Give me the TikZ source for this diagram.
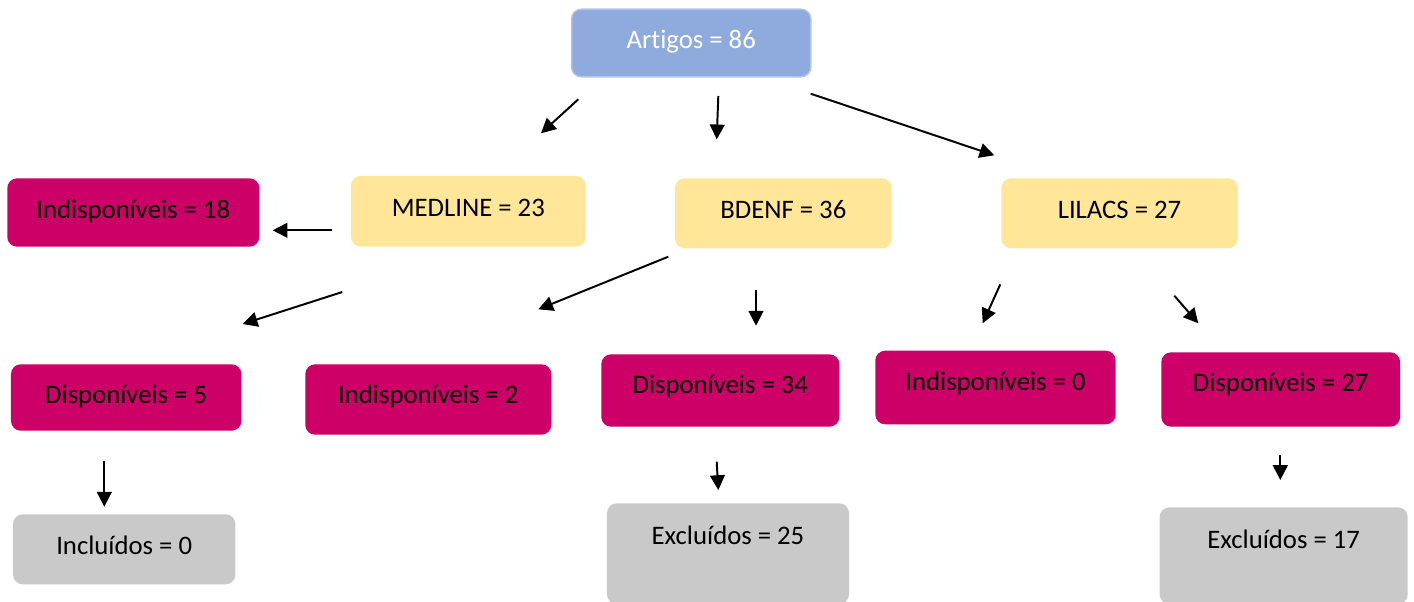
\documentclass[tikz,border=0pt]{standalone}
\usepackage{fontspec}
\setmainfont[Ligatures=NoCommon]{Carlito}
\usetikzlibrary{arrows.meta}

\definecolor{artblue}{HTML}{8FAADC}
\definecolor{artedge}{HTML}{B0C4E8}
\definecolor{basey}{HTML}{FFE699}
\definecolor{dispm}{HTML}{CC0066}
\definecolor{fimg}{HTML}{C9C9C9}

\tikzset{
    box/.style={rounded corners=7pt, inner sep=0pt, text height=12.1pt,
        text depth=5pt, font=\fontsize{19}{22}\selectfont},
    topbox/.style={box, fill=artblue, draw=artedge, line width=1pt, text=white},
    basebox/.style={box, fill=basey},
    dispbox/.style={box, fill=dispm},
    fimbox/.style={box, fill=fimg},
    arr/.style={line width=1.4pt, -{Triangle[length=10.5pt, width=10.5pt]}}
}

\begin{document}
\begin{tikzpicture}[x=0.025cm, y=-0.025cm]

            \useasboundingbox (0,0) rectangle (1414,601);

            % boxes
            \node[topbox, minimum width=5.98cm, minimum height=1.69cm, text depth=4.6pt]
                (art) at (691.2,43) {Artigos = 86};

            \node[basebox, minimum width=5.87cm, minimum height=1.77cm, text depth=5.4pt]
                (med) at (468.3,211.3) {MEDLINE = 23};
            \node[basebox, minimum width=5.42cm, minimum height=1.75cm]
                (bde) at (783.3,213.3) {BDENF = 36};
            \node[basebox, minimum width=5.91cm, minimum height=1.75cm]
                (lil) at (1119.5,213.3) {LILACS = 27};

            \node[dispbox, minimum width=6.30cm, minimum height=1.71cm, text depth=3.8pt]
                (ind18) at (133.3,212.5) {Indisponíveis = 18};
            \node[dispbox, minimum width=5.76cm, minimum height=1.66cm, text depth=3pt]
                (dis5) at (126.2,397.5) {Disponíveis = 5};
            \node[dispbox, minimum width=6.15cm, minimum height=1.76cm, text depth=6.5pt]
                (ind2) at (428.3,399.5) {Indisponíveis = 2};
            \node[dispbox, minimum width=5.95cm, minimum height=1.81cm, text depth=8.3pt]
                (dis34) at (720.3,390.5) {Disponíveis = 34};
            \node[dispbox, minimum width=6.01cm, minimum height=1.84cm, text depth=8.5pt]
                (ind0) at (995.5,387.5) {Indisponíveis = 0};
            \node[dispbox, minimum width=5.97cm, minimum height=1.86cm, text depth=9pt]
                (dis27) at (1280.7,389.5) {Disponíveis = 27};

            \node[fimbox, minimum width=5.56cm, minimum height=1.75cm]
                (inc0) at (124.2,549.3) {Incluídos = 0};
            \node[fimbox, minimum width=6.05cm, minimum height=2.52cm, text depth=24.5pt]
                (exc25) at (728,553.7) {Excluídos = 25};
            \node[fimbox, minimum width=6.20cm, minimum height=2.42cm, text depth=22.6pt]
                (exc17) at (1283.7,555.7) {Excluídos = 17};

            % arrow ends
            \coordinate (artmS) at (578.3,99.3);   \coordinate (artmT) at (541,133.3);
            \coordinate (artbS) at (718.3,96);     \coordinate (artbT) at (716.7,139.3);
            \coordinate (artlS) at (810.7,93.7);   \coordinate (artlT) at (994.3,155.3);
            \coordinate (mediS) at (332.3,230.3);  \coordinate (mediT) at (272.7,230.3);
            \coordinate (meddS) at (342.3,292);    \coordinate (meddT) at (242.7,324);
            \coordinate (bdeiS) at (668.3,256.7);  \coordinate (bdeiT) at (538.3,309.3);
            \coordinate (bdedS) at (756,290);      \coordinate (bdedT) at (756,325.7);
            \coordinate (liliS) at (1000.3,284.3); \coordinate (liliT) at (982.7,323.3);
            \coordinate (lildS) at (1174.3,295.7); \coordinate (lildT) at (1198.3,323.3);
            \coordinate (disiS) at (104.3,461.3);  \coordinate (disiT) at (104.3,506.7);
            \coordinate (dbeS) at (716.7,461.7);   \coordinate (dbeT) at (718.3,490);
            \coordinate (dleS) at (1280.3,455.3);  \coordinate (dleT) at (1280.3,480);

            \foreach \a in {artm, artb, artl, medi, medd, bdei, bded, lili, lild, disi, dbe, dle} {
                    \draw[arr] (\a S) -- (\a T);
                }

        \end{tikzpicture}
\end{document}
